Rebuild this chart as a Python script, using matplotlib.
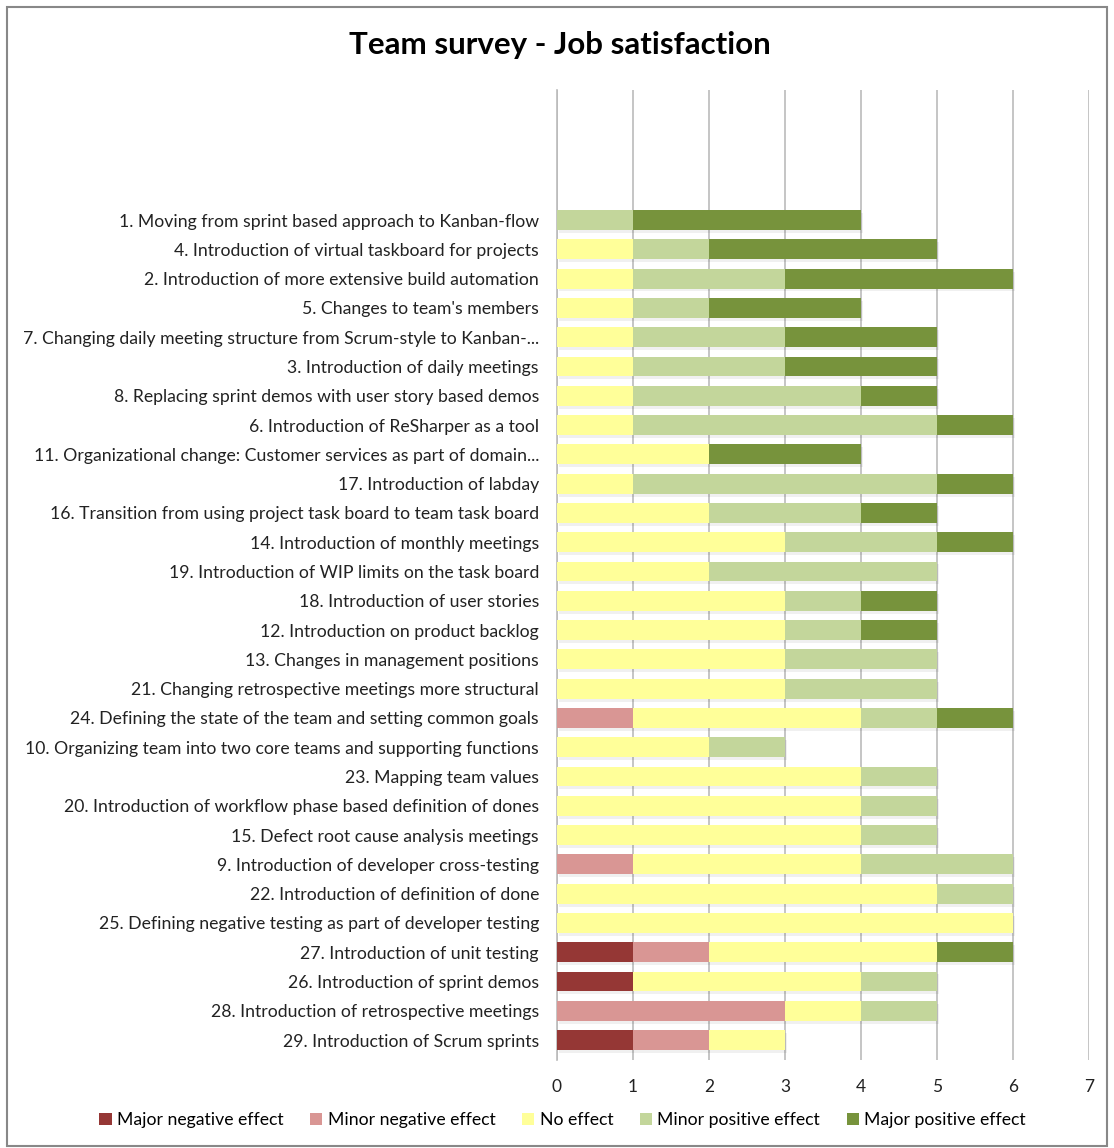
import numpy as np
import matplotlib.pyplot as plt
from matplotlib.patches import Rectangle

plt.rcParams['font.family'] = ['Lato', 'DejaVu Sans']

items = [
    "1. Moving from sprint based approach to Kanban-flow",
    "4. Introduction of virtual taskboard for projects",
    "2. Introduction of more extensive build automation",
    "5. Changes to team's members",
    "7. Changing daily meeting structure from Scrum-style to Kanban-...",
    "3. Introduction of daily meetings",
    "8. Replacing sprint demos with user story based demos",
    "6. Introduction of ReSharper as a tool",
    "11. Organizational change: Customer services as part of domain...",
    "17. Introduction of labday",
    "16. Transition from using project task board to team task board",
    "14. Introduction of monthly meetings",
    "19. Introduction of WIP limits on the task board",
    "18. Introduction of user stories",
    "12. Introduction on product backlog",
    "13. Changes in management positions",
    "21. Changing retrospective meetings more structural",
    "24. Defining the state of the team and setting common goals",
    "10. Organizing team into two core teams and supporting functions",
    "23. Mapping team values",
    "20. Introduction of workflow phase based definition of dones",
    "15. Defect root cause analysis meetings",
    "9. Introduction of developer cross-testing",
    "22. Introduction of definition of done",
    "25. Defining negative testing as part of developer testing",
    "27. Introduction of unit testing",
    "26. Introduction of sprint demos",
    "28. Introduction of retrospective meetings",
    "29. Introduction of Scrum sprints",
]

major_neg = [0, 0, 0, 0, 0, 0, 0, 0, 0, 0, 0, 0, 0, 0, 0, 0, 0, 0, 0, 0, 0, 0, 0, 0, 0, 1, 1, 0, 1]
minor_neg = [0, 0, 0, 0, 0, 0, 0, 0, 0, 0, 0, 0, 0, 0, 0, 0, 0, 1, 0, 0, 0, 0, 1, 0, 0, 1, 0, 3, 1]
no_effect = [0, 1, 1, 1, 1, 1, 1, 1, 2, 1, 2, 3, 2, 3, 3, 3, 3, 3, 2, 4, 4, 4, 3, 5, 6, 3, 3, 1, 1]
minor_pos = [1, 1, 2, 1, 2, 2, 3, 4, 0, 4, 2, 2, 3, 1, 1, 2, 2, 1, 1, 1, 1, 1, 2, 1, 0, 0, 1, 1, 0]
major_pos = [3, 3, 3, 2, 2, 2, 1, 1, 2, 1, 1, 1, 0, 1, 1, 0, 0, 1, 0, 0, 0, 0, 0, 0, 0, 1, 0, 0, 0]

series = [
    ("Major negative effect", major_neg, "#953735"),
    ("Minor negative effect", minor_neg, "#D99694"),
    ("No effect", no_effect, "#FFFF99"),
    ("Minor positive effect", minor_pos, "#C3D69B"),
    ("Major positive effect", major_pos, "#77933C"),
]

fig = plt.figure(figsize=(11.14, 11.48), dpi=100)
ax = fig.add_axes([557 / 1114, 1 - 1060 / 1148, (1089 - 557) / 1114, (1060 - 90) / 1148])

y = np.arange(len(items))
left = np.zeros(len(items))
for name, vals, color in series:
    vals = np.array(vals, dtype=float)
    # soft drop shadow under each segment
    ax.barh(y + 0.1, vals, left=left + 0.03, height=0.68, color="#000000",
            alpha=0.06, linewidth=0, zorder=2)
    ax.barh(y, vals, left=left, height=0.68, color=color, label=name,
            linewidth=0, zorder=3)
    left += vals

ax.set_xlim(0, 7)
ax.set_ylim(len(items) - 1 + 0.68, -4.44)
ax.set_xticks(range(8))
ax.set_yticks(y)
ax.set_yticklabels(items, fontsize=12.7, color="#222222")
ax.tick_params(axis="y", length=0, pad=13)
ax.tick_params(axis="x", length=0, pad=14, labelsize=12.5, colors="#222222")
ax.grid(axis="x", color="#BBBBBB", linewidth=1.2, zorder=0)
ax.set_axisbelow(True)
for s in ["top", "right", "bottom"]:
    ax.spines[s].set_visible(False)
ax.spines["left"].set_color("#BBBBBB")
ax.spines["left"].set_linewidth(1.2)

fig.text(0.503, 1 - 45 / 1148, "Team survey - Job satisfaction", ha="center",
         va="center", fontsize=22.5, fontweight="bold")

fig.legend(loc="center", bbox_to_anchor=(0.505, 1 - 1120 / 1148), ncol=5,
           frameon=False, fontsize=12.7, handlelength=0.7, handleheight=0.7,
           handletextpad=0.3, columnspacing=1.5)

fig.patches.append(Rectangle((7 / 1114, 0.002), 1 - 14 / 1114, 1 - 9 / 1148,
                             transform=fig.transFigure, fill=False,
                             edgecolor="#888888", linewidth=1.5))

fig.savefig("out.png", dpi=100)
